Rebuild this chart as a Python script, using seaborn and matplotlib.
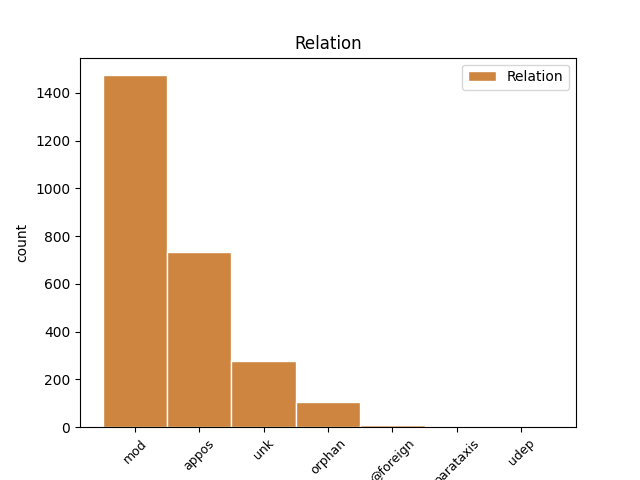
import matplotlib
matplotlib.use("Agg")
import matplotlib.pyplot as plt
import seaborn as sns
import pandas as pd

categories = ["mod", "appos", "unk", "orphan", "@foreign", "parataxis", "udep"]
counts = [1474, 733, 277, 105, 8, 1, 1]

df = pd.DataFrame({"Relation": categories, "count": counts})

fig, ax = plt.subplots(figsize=(6.4, 4.8), dpi=100)
sns.histplot(data=df, x="Relation", weights="count", discrete=True, shrink=1,
             color="peru", alpha=1, edgecolor="white", linewidth=1,
             label="Relation", ax=ax)
ax.set_title("Relation")
ax.set_ylabel("count")
ax.set_xlabel("")
ax.tick_params(axis="x", labelrotation=45, labelsize=9)
ax.legend(loc="upper right")
fig.savefig("out.png", dpi=100)
